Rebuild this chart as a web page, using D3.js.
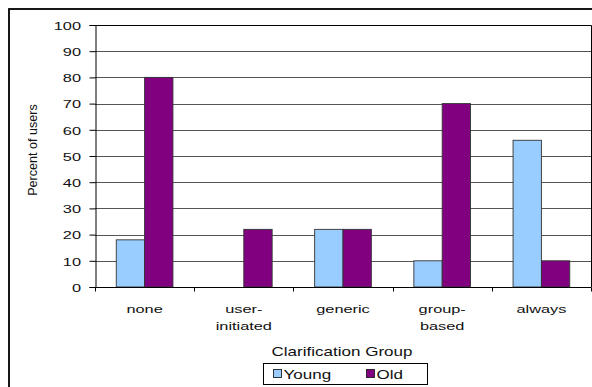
<!DOCTYPE html>
<html>
<head>
<meta charset="utf-8">
<script src="https://cdn.jsdelivr.net/npm/d3@7"></script>
<style>
  html, body { margin: 0; padding: 0; background: #fff; }
  svg { display: block; }
  text { font-family: "Liberation Sans", Arial, sans-serif; fill: #111; }
</style>
</head>
<body>
<svg id="chart" width="592" height="387"></svg>
<script>
// Clarification groups along the x axis (each label may wrap to two lines)
const categories = ["none", "user-initiated", "generic", "group-based", "always"];
const categoryLines = [["none"], ["user-", "initiated"], ["generic"], ["group-", "based"], ["always"]];
const seriesNames = ["Young", "Old"];
const youngValues = [18, 0, 22, 10, 56];
const oldValues = [80, 22, 22, 70, 10];
const yTicks = [0, 10, 20, 30, 40, 50, 60, 70, 80, 90, 100];
const seriesColors = ["#99CCFF", "#800080"];

const svg = d3.select("#chart");
const plot = { left: 95, right: 591, top: 25, bottom: 287 };
const xStretch = 1.42;   // wide text rendering
const fontPx = 11.5;

// Outer chart frame (runs off the right and bottom edges)
svg.append("rect")
  .attr("x", 9).attr("y", 9).attr("width", 620).attr("height", 420)
  .attr("fill", "none").attr("stroke", "#000").attr("stroke-width", 1.8);

const x = d3.scaleBand().domain(categories).range([plot.left, plot.right]).padding(0);
const xs = d3.scaleBand().domain(seriesNames).range([0, x.bandwidth()])
  .paddingInner(0).paddingOuter(0.75);
const y = d3.scaleLinear().domain([0, 100]).range([plot.bottom, plot.top]);

// Horizontal gridlines
svg.append("g").selectAll("line").data(yTicks.filter(d => d > 0 && d < 100)).join("line")
  .attr("x1", plot.left).attr("x2", plot.right)
  .attr("y1", d => Math.round(y(d)) + 0.5).attr("y2", d => Math.round(y(d)) + 0.5)
  .attr("stroke", "#555").attr("stroke-width", 1);

// Plot area top and right borders
svg.append("path")
  .attr("d", `M${plot.left},${plot.top + 0.5}H${plot.right + 0.5}V${plot.bottom}`)
  .attr("fill", "none").attr("stroke", "#000").attr("stroke-width", 1);

// Bars
const data = categories.map((c, i) => ({ c, vals: [youngValues[i], oldValues[i]] }));
const groups = svg.append("g").selectAll("g").data(data).join("g")
  .attr("transform", d => `translate(${x(d.c)},0)`);
groups.selectAll("rect")
  .data(d => d.vals.map((v, j) => ({ s: seriesNames[j], v, j })).filter(e => e.v > 0))
  .join("rect")
  .attr("x", d => xs(d.s))
  .attr("width", xs.bandwidth())
  .attr("y", d => y(d.v))
  .attr("height", d => y(0) - y(d.v))
  .attr("fill", d => seriesColors[d.j])
  .attr("stroke", "#333").attr("stroke-width", 0.9);

// Y axis
const yAxis = d3.axisLeft(y).tickValues(yTicks).tickSize(6).tickPadding(9);
const gy = svg.append("g").attr("transform", `translate(${plot.left + 0.5},0)`).call(yAxis);
gy.select(".domain").attr("stroke", "#000");
gy.selectAll(".tick line").attr("stroke", "#000");
gy.selectAll(".tick text").each(function (d) {
  const t = d3.select(this);
  t.attr("x", null).attr("dy", null)
    .attr("text-anchor", "end")
    .attr("font-size", fontPx)
    .attr("transform", `translate(-14.5,4.3) scale(${xStretch},1)`)
    .style("fill", "#111");
});

// X axis line and band separators
const gx = svg.append("g").attr("transform", `translate(0,${plot.bottom + 0.5})`);
gx.append("line").attr("x1", plot.left).attr("x2", plot.right + 0.5)
  .attr("stroke", "#000");
const edges = categories.map(c => x(c)).concat([plot.right]);
gx.selectAll("line.tick").data(edges).join("line").attr("class", "tick")
  .attr("x1", d => Math.round(d) + 0.5).attr("x2", d => Math.round(d) + 0.5)
  .attr("y1", 0).attr("y2", 4).attr("stroke", "#000");

// Category labels
categoryLines.forEach((lines, i) => {
  const cx = x(categories[i]) + x.bandwidth() / 2;
  lines.forEach((ln, k) => {
    svg.append("text")
      .attr("transform", `translate(${cx},${313 + k * 17}) scale(${xStretch},1)`)
      .attr("text-anchor", "middle").attr("font-size", fontPx)
      .text(ln);
  });
});

// Axis titles
svg.append("text")
  .attr("transform", `translate(${(plot.left + plot.right) / 2 - 1},356) scale(${xStretch},1)`)
  .attr("text-anchor", "middle").attr("font-size", fontPx + 0.5)
  .text("Clarification Group");

svg.append("text")
  .attr("transform", "translate(36.5,150) rotate(-90)")
  .attr("text-anchor", "middle").attr("font-size", 12.6)
  .text("Percent of users");

// Legend
const legend = svg.append("g");
legend.append("rect").attr("x", 263.5).attr("y", 363.5).attr("width", 164).attr("height", 21)
  .attr("fill", "#fff").attr("stroke", "#000").attr("stroke-width", 1);
const legendX = [273.5, 366.5];
seriesNames.forEach((s, j) => {
  legend.append("rect").attr("x", legendX[j]).attr("y", 369.5).attr("width", 8).attr("height", 8)
    .attr("fill", seriesColors[j]).attr("stroke", "#222").attr("stroke-width", 0.9);
  legend.append("text")
    .attr("transform", `translate(${legendX[j] + 10},378.5) scale(${xStretch},1)`)
    .attr("font-size", fontPx + 0.5)
    .text(s);
});
</script>
</body>
</html>
